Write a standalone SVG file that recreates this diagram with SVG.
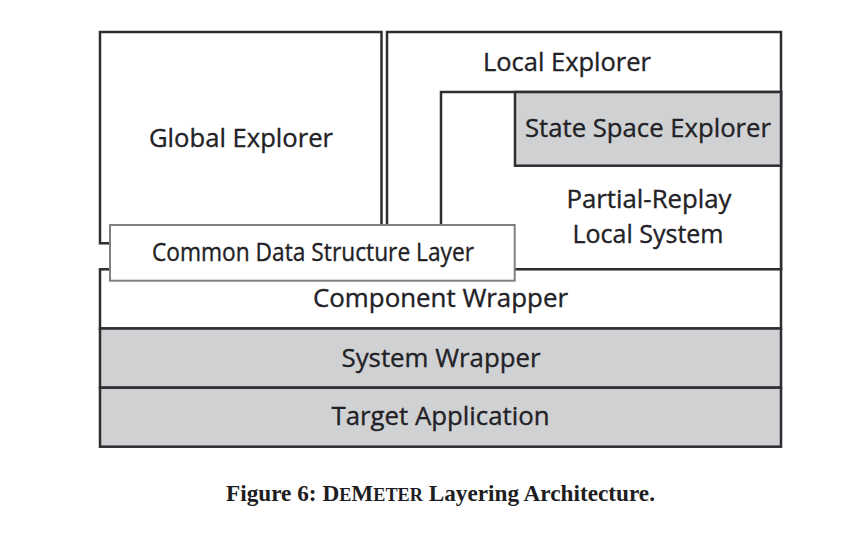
<svg xmlns="http://www.w3.org/2000/svg" width="863" height="546" viewBox="0 0 863 546">
<style>
.box{fill:#ffffff;stroke:#2e2e32;stroke-width:2.5}
.gray{fill:#d0d1d3;stroke:#2e2e32;stroke-width:2.5}
.cds{fill:#ffffff;stroke:#7f7f82;stroke-width:2}
.lbl{font-family:"Open Sans","Noto Sans",sans-serif;font-size:25px;fill:#222226;stroke:#222226;stroke-width:0.35;text-anchor:middle}
.cap{font-family:"Liberation Serif","Times New Roman",serif;font-weight:bold;font-size:23px;fill:#1e1e22;text-anchor:middle}
</style>
<rect width="863" height="546" fill="#ffffff"/>
<g id="global-explorer">
<rect class="box" x="100" y="32" width="281.5" height="211.3"/>
<text class="lbl" x="241" y="147" textLength="184" lengthAdjust="spacingAndGlyphs">Global Explorer</text>
</g>
<g id="local-explorer">
<rect class="box" x="387" y="32" width="394" height="237.3"/>
<text class="lbl" x="567" y="70.5" textLength="168" lengthAdjust="spacingAndGlyphs">Local Explorer</text>
</g>
<g id="partial-replay">
<rect class="box" x="441" y="92" width="340" height="177.3"/>
<text class="lbl" x="649" y="208" textLength="165" lengthAdjust="spacingAndGlyphs">Partial-Replay</text>
<text class="lbl" x="648" y="242.5" textLength="151" lengthAdjust="spacingAndGlyphs">Local System</text>
</g>
<g id="state-space-explorer">
<rect class="gray" x="515" y="92" width="266" height="73.7"/>
<text class="lbl" x="648" y="137.3" textLength="246" lengthAdjust="spacingAndGlyphs">State Space Explorer</text>
</g>
<g id="component-wrapper">
<rect class="box" x="100" y="269.3" width="681" height="59.2"/>
<text class="lbl" x="440.5" y="307" textLength="255" lengthAdjust="spacingAndGlyphs">Component Wrapper</text>
</g>
<g id="system-wrapper">
<rect class="gray" x="100" y="328.5" width="681" height="59.2"/>
<text class="lbl" x="441" y="366.5" textLength="199" lengthAdjust="spacingAndGlyphs">System Wrapper</text>
</g>
<g id="target-application">
<rect class="gray" x="100" y="387.7" width="681" height="59"/>
<text class="lbl" x="440.5" y="425" textLength="218" lengthAdjust="spacingAndGlyphs">Target Application</text>
</g>
<g id="common-data-structure-layer">
<rect class="cds" x="110" y="225" width="404.7" height="55.7"/>
<text class="lbl" x="313" y="260.5" textLength="322" lengthAdjust="spacingAndGlyphs">Common Data Structure Layer</text>
</g>
<g id="connectors"></g>
<text class="cap" x="440.5" y="500.7" textLength="429" lengthAdjust="spacingAndGlyphs">Figure 6: D<tspan font-size="18px">E</tspan>M<tspan font-size="18px">ETER</tspan> Layering Architecture.</text>
</svg>
